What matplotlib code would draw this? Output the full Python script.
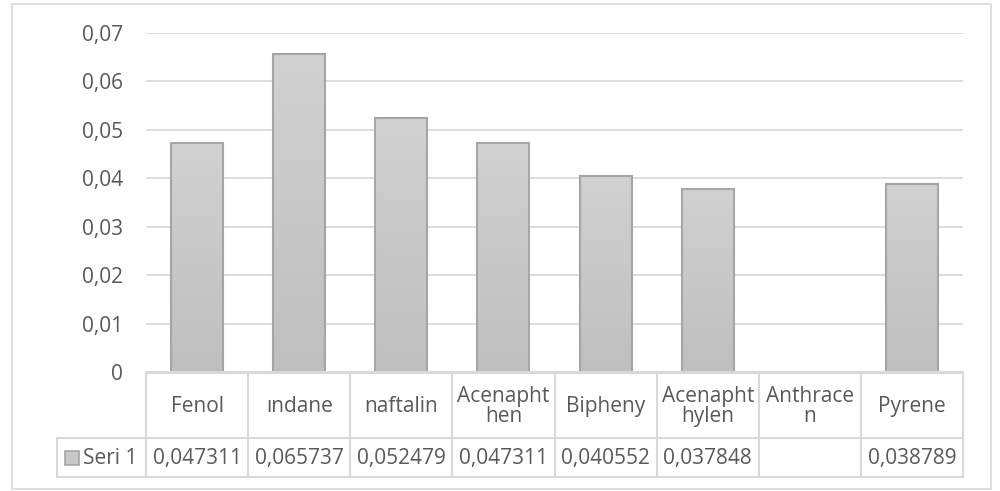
import numpy as np
import matplotlib
matplotlib.use("Agg")
import matplotlib.pyplot as plt
from matplotlib.patches import Rectangle
from matplotlib.lines import Line2D

categories = ["Fenol", "ındane", "naftalin", "Acenapht\nhen", "Bipheny",
              "Acenapht\nhylen", "Anthrace\nn", "Pyrene"]
values = [0.047311, 0.065737, 0.052479, 0.047311, 0.040552, 0.037848, np.nan, 0.038789]
series_name = "Seri 1"
yticks = [0, 0.01, 0.02, 0.03, 0.04, 0.05, 0.06, 0.07]

W, H = 1000, 491
TEXT = "#595959"
GRID = "#d9d9d9"
FONT = "Open Sans"
FS = 15

plt.rcParams["font.family"] = [FONT, "DejaVu Sans"]

fig = plt.figure(figsize=(W / 100, H / 100), dpi=100)
fig.patch.set_facecolor("white")


def px_rect(x0, y0, x1, y1):
    """Figure-fraction rect from pixel coords measured from the top-left."""
    return [x0 / W, 1 - y1 / H, (x1 - x0) / W, (y1 - y0) / H]


# chart border
fig.add_artist(Rectangle((12 / W, 1 - 489 / H), (991 - 12) / W, (489 - 4) / H,
                         transform=fig.transFigure, fill=False,
                         edgecolor=GRID, linewidth=1.2))

# plot area
x_left, x_right = 146, 963
ax = fig.add_axes(px_rect(x_left, 33, x_right, 372))
n = len(categories)
x = np.arange(n)
ax.set_xlim(-0.5, n - 0.5)
ax.set_ylim(0, 0.07)
ax.set_yticks(yticks)
ax.set_yticklabels([f"{t:.2f}".replace(".", ",") if t else "0" for t in yticks],
                   color=TEXT, fontsize=FS)
ax.tick_params(axis="y", length=0, pad=16.5)
ax.tick_params(axis="x", bottom=False, labelbottom=False)
for s in ax.spines.values():
    s.set_visible(False)
ax.grid(axis="y", color=GRID, linewidth=1.3)
ax.set_axisbelow(True)

vals = np.array(values, dtype=float)
bars = ax.bar(x, np.nan_to_num(vals), width=0.51, facecolor="none",
              edgecolor="#a5a5a5", linewidth=1.5, zorder=3)
grad = np.linspace(0, 1, 256).reshape(-1, 1)
cmap = matplotlib.colors.LinearSegmentedColormap.from_list("g", ["#bfbfbf", "#d1d1d1"])
for b, v in zip(bars, vals):
    if np.isnan(v):
        b.set_visible(False)
        continue
    im = ax.imshow(grad, cmap=cmap, origin="lower", aspect="auto",
                   extent=[b.get_x(), b.get_x() + b.get_width(), 0, v], zorder=2)
    im.set_clip_path(b)
ax.set_xlim(-0.5, n - 0.5)
ax.set_ylim(0, 0.07)
ax.axhline(0, color=GRID, linewidth=1.5, zorder=4)

# data table below the plot
unit = (x_right - x_left) / n
leg_left = 57
t_top, t_mid, t_bot = 373, 438, 477
tax = fig.add_axes(px_rect(leg_left, t_top, x_right, t_bot))
tax.set_xlim(-0.5 - (x_left - leg_left) / unit, n - 0.5)
tax.set_ylim(t_bot, t_top)
tax.axis("off")
lkw = dict(color=GRID, linewidth=1.5, clip_on=False)
tax.add_line(Line2D([-0.5, n - 0.5], [t_top, t_top], **lkw))
tax.add_line(Line2D([tax.get_xlim()[0], n - 0.5], [t_mid, t_mid], **lkw))
tax.add_line(Line2D([tax.get_xlim()[0], n - 0.5], [t_bot, t_bot], **lkw))
tax.add_line(Line2D([tax.get_xlim()[0]] * 2, [t_mid, t_bot], **lkw))
for k in range(n + 1):
    tax.add_line(Line2D([k - 0.5, k - 0.5], [t_top, t_bot], **lkw))

for xi, cat, v in zip(x, categories, vals):
    tax.text(xi, (t_top + t_mid) / 2 + 1, cat, ha="center", va="center",
             color=TEXT, fontsize=FS, linespacing=0.95)
    if not np.isnan(v):
        tax.text(xi, (t_mid + t_bot) / 2 + 1, f"{v:.6f}".replace(".", ","),
                 ha="center", va="center", color=TEXT, fontsize=FS)

# legend key in the table
x0 = tax.get_xlim()[0]
key_w = 14 / unit
tax.add_patch(Rectangle((x0 + 8 / unit, 451), key_w, 14, facecolor="#c8c8c8",
                        edgecolor="#a5a5a5", linewidth=1.2, clip_on=False))
tax.text(x0 + 26 / unit, (t_mid + t_bot) / 2 + 1, series_name, ha="left",
         va="center", color=TEXT, fontsize=FS)

fig.savefig("out.png", dpi=100, facecolor="white")
